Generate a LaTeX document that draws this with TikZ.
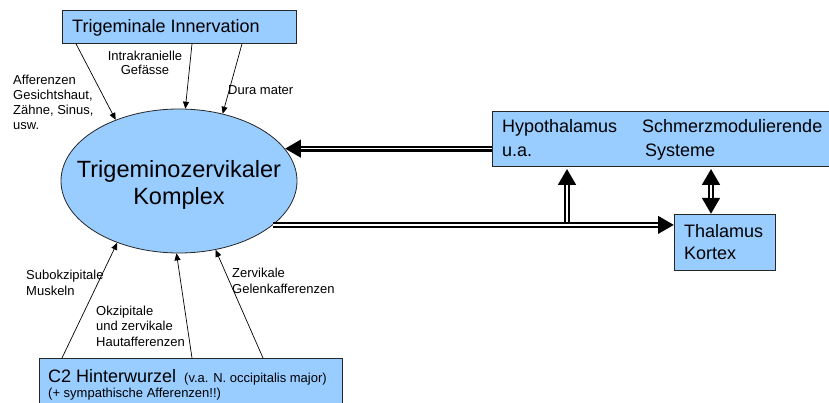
\documentclass[tikz,border=0pt]{standalone}
\usepackage{fontspec}
\setmainfont{Liberation Sans}
\usetikzlibrary{shapes.geometric,arrows.meta,calc}
\definecolor{boxblue}{HTML}{99CCFF}
\begin{document}
\begin{tikzpicture}[x=1pt,y=-1pt,
  box/.style={draw=black!85, line width=0.8pt, fill=boxblue, inner sep=0pt, anchor=north west},
  lbl/.style={inner sep=0pt, anchor=base west, align=left, font=\fontsize{13}{15}\selectfont},
  big/.style={inner sep=0pt, anchor=base west, align=left, font=\fontsize{18}{22}\selectfont},
  thinarrow/.style={line width=0.7pt, -{Triangle[length=7pt,width=6pt]}},
  dbl/.style={line width=6pt, -{Triangle[length=16pt,width=17pt]},
    postaction={draw=white, line width=1.4pt, -, shorten >=16pt}},
  dblboth/.style={line width=6pt, {Triangle[length=16pt,width=17pt]}-{Triangle[length=16pt,width=17pt]},
    postaction={draw=white, line width=1.4pt, -, shorten >=16pt, shorten <=16pt}},
]
\useasboundingbox (0,0) rectangle (829,403);

% boxes
\node[box, minimum width=234pt, minimum height=33pt] (ti) at (62,10) {};
\node[big] (tit) at (72,33) {Trigeminale Innervation};

\node[ellipse, draw=black!85, line width=0.8pt, fill=boxblue, minimum width=236pt,
  minimum height=144pt, inner sep=0pt] (tk) at (179,181) {};
\node[inner sep=0pt, anchor=base, align=center,
  font=\fontsize{23.5}{27}\selectfont] (tkt) at (179,205) {Trigeminozervikaler\\Komplex};

\node[box, minimum width=337pt, minimum height=55pt] (hy) at (492,111) {};
\node[big, font=\fontsize{18}{24}\selectfont] (hyt1) at (502,157) {Hypothalamus\\u.a.};
\node[big, font=\fontsize{18}{24}\selectfont] (hyt2) at (642,157) {Schmerzmodulierende\\\hspace*{3pt}Systeme};

\node[box, minimum width=101pt, minimum height=56pt] (th) at (674,214) {};
\node[big] (tht) at (684,259) {Thalamus\\Kortex};

\node[box, minimum width=303pt, minimum height=50pt] (c2) at (39,358) {};
\node[big] (c2a) at (48,382) {C2 Hinterwurzel};
\node[lbl] (c2b) at (184,382) {(v.a. N. occipitalis major)};
\node[lbl] (c2c) at (48,397) {(+ sympathische Afferenzen!!)};

% labels (anchor = baseline of last line)
\node[lbl] (l1) at (13,130) {Afferenzen\\Gesichtshaut,\\Zähne, Sinus,\\usw.};
\node[lbl, align=center, anchor=base, font=\fontsize{13}{14}\selectfont] (l2) at (145,75) {Intrakranielle\\Gefässe};
\node[lbl] (l3) at (228,95) {Dura mater};
\node[lbl, font=\fontsize{13}{16}\selectfont] (l4) at (26,295) {Subokzipitale\\Muskeln};
\node[lbl, font=\fontsize{13}{15.5}\selectfont] (l5) at (96,346) {Okzipitale\\und zervikale\\Hautafferenzen};
\node[lbl, font=\fontsize{13}{16}\selectfont] (l6) at (232,293) {Zervikale\\Gelenkafferenzen};

% thin arrows
\draw[thinarrow] ($(ti.south west)+(14,0)$) -- (tk.136);
\draw[thinarrow] ($(ti.south west)+(130,0)$) -- (tk.85);
\draw[thinarrow] ($(ti.south west)+(180,0)$) -- (tk.57);
\draw[thinarrow] ($(c2.north west)+(23,0)$) -- (tk.225);
\draw[thinarrow] ($(c2.north west)+(153,0)$) -- (tk.268);
\draw[thinarrow] ($(c2.north west)+(224,0)$) -- (tk.298);

% double arrows
\path (567,0) coordinate (jx) (711,0) coordinate (kx);
\path ($(jx |- hy.south)+(0,2)$) coordinate (jtop) ($(kx |- hy.south)+(0,2)$) coordinate (ktop);
\draw[dbl] (hy.west |- tk.17) -- (tk.17);
\draw[dbl] (tk.-25) -- (tk.-25 -| th.west);
\draw[dbl] ($(tk.-25 -| jx)+(0,-3)$) -- (jtop);
\draw[dblboth] (ktop) -- (kx |- th.north);
\end{tikzpicture}
\end{document}
